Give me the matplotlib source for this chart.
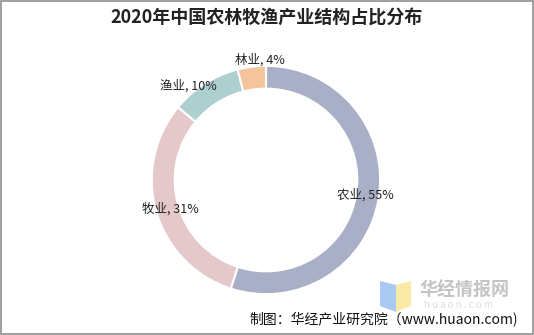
import matplotlib.pyplot as plt
from matplotlib.patches import Polygon, Rectangle

plt.rcParams['font.family'] = ['Noto Sans CJK SC', 'DejaVu Sans']

categories = ["农业", "牧业", "渔业", "林业"]
shares = [55, 31, 10, 4]
colors = ["#A9AFC7", "#E4C8CA", "#AECFD0", "#F4C59D"]
# label centres in axes data units (ring outer radius = 1)
label_pos = [(0.87, -0.13), (-0.84, -0.25), (-0.68, 0.82), (-0.05, 1.05)]

fig = plt.figure(figsize=(5.34, 3.35), dpi=100)
fig.patches.append(Rectangle((0.001, 0.002), 0.997, 0.995, transform=fig.transFigure,
                             fill=False, edgecolor="#8f8f8f", linewidth=1.2))

ax = fig.add_axes([129 / 534, 18 / 335, 274 / 534, 274 / 335])
ax.pie(shares, colors=colors, startangle=90, counterclock=False,
       radius=1.0, wedgeprops=dict(width=0.2, edgecolor="white", linewidth=1.5))
ax.set_xlim(-1.2, 1.2)
ax.set_ylim(-1.2, 1.2)
ax.set_aspect("equal")
ax.axis("off")

for name, val, (x, y) in zip(categories, shares, label_pos):
    ax.text(x, y, f"{name}, {val}%", ha="center", va="center",
            fontsize=9, color="#222222", clip_on=False)

fig.text(0.5, 1 - 18 / 335, "2020年中国农林牧渔产业结构占比分布", ha="center", va="center",
         fontsize=13, fontweight="bold", color="#222222")

# watermark logo
fig.patches.append(Polygon([(380 / 534, 1 - 281 / 335), (396 / 534, 1 - 285 / 335),
                            (396 / 534, 1 - 312 / 335), (380 / 534, 1 - 306 / 335)],
                           closed=True, transform=fig.transFigure,
                           facecolor="#A9CAF2", edgecolor="none"))
fig.patches.append(Polygon([(396 / 534, 1 - 285 / 335), (411 / 534, 1 - 281 / 335),
                            (411 / 534, 1 - 306 / 335), (396 / 534, 1 - 312 / 335)],
                           closed=True, transform=fig.transFigure,
                           facecolor="#FBE9A8", edgecolor="none"))
fig.text(420 / 534, 1 - 290 / 335, "华经情报网", ha="left", va="center",
         fontsize=13, fontweight="bold", color="#C4C4C4")
fig.text(424 / 534, 1 - 305 / 335, "h u a o n . c o m", ha="left", va="center",
         fontsize=7, color="#DDDDDD")

fig.text(518 / 534, 1 - 320 / 335, "制图：华经产业研究院（www.huaon.com)", ha="right", va="center",
         fontsize=10, color="#111111")

fig.savefig("out.png", dpi=100)
